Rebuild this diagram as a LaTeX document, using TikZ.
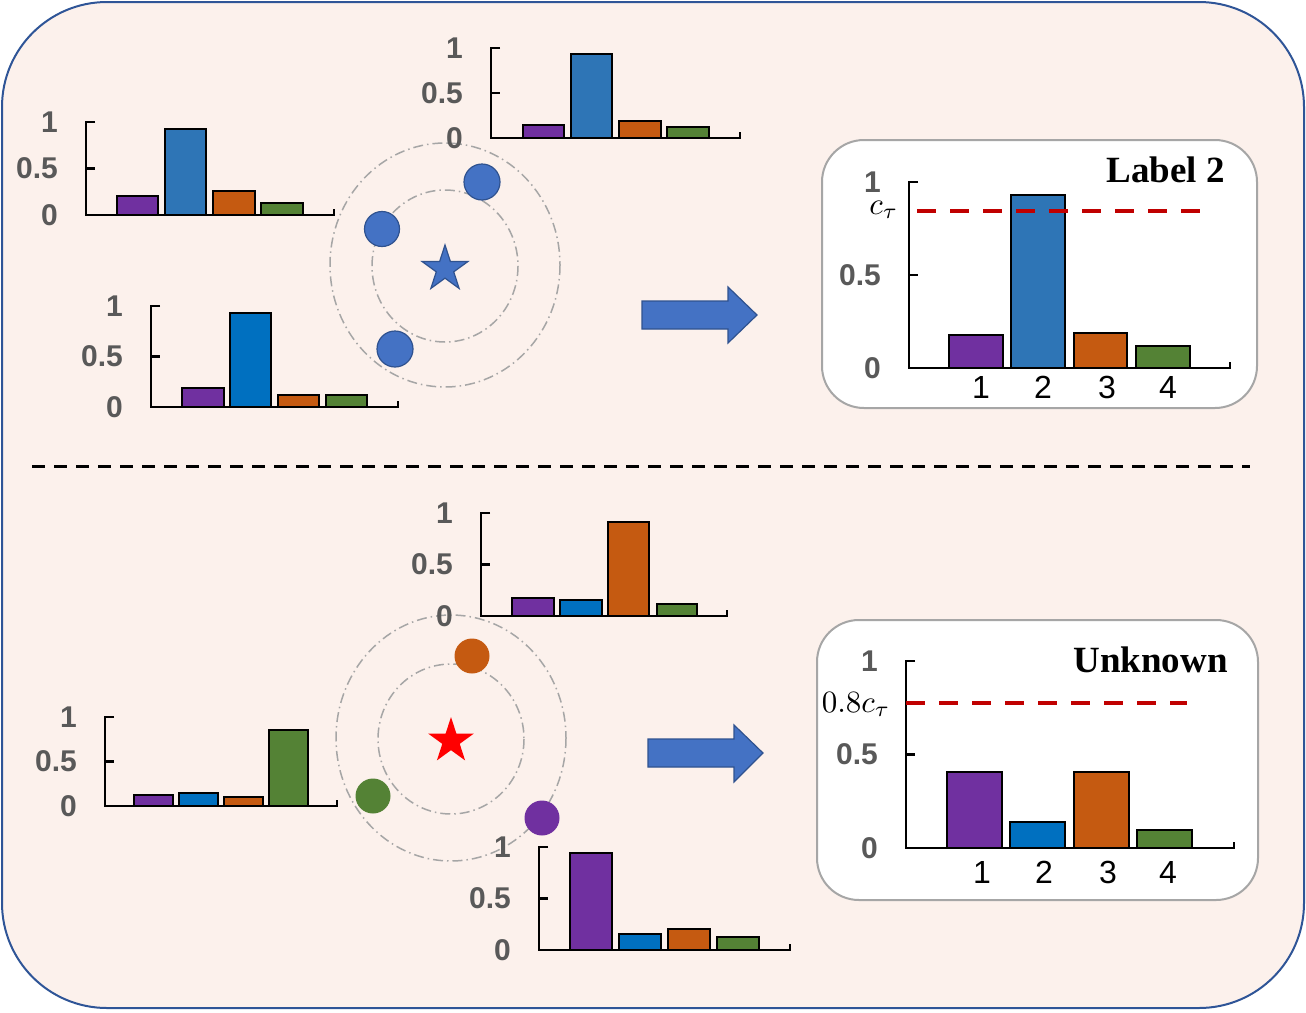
\documentclass[tikz,border=0pt]{standalone}
\usepackage{fontspec}
\newfontfamily\lsans{Liberation Sans}
\newfontfamily\lserif{Liberation Serif}
\usetikzlibrary{shapes.geometric}
\definecolor{bgpink}{HTML}{FCF1EC}
\definecolor{frameblue}{HTML}{2F5597}
\definecolor{cpurple}{HTML}{7030A0}
\definecolor{cblueT}{HTML}{2E75B6}
\definecolor{cblueB}{HTML}{0070C0}
\definecolor{corange}{HTML}{C55A11}
\definecolor{cgreen}{HTML}{548235}
\definecolor{labgray}{HTML}{595959}
\definecolor{ringgray}{HTML}{A6A6A6}
\definecolor{dotblue}{HTML}{4472C4}
\definecolor{dotedge}{HTML}{2F528F}
\definecolor{thrred}{HTML}{C00000}
\definecolor{boxgray}{HTML}{A6A6A6}
\tikzset{
  axisst/.style={draw=black, line width=2.2pt},
  barst/.style={draw=black, line width=2pt},
  axlab/.style={font=\lsans\bfseries\fontsize{30}{30}\selectfont, text=labgray, anchor=east, inner sep=0pt},
  catlab/.style={font=\lsans\fontsize{32}{32}\selectfont, text=black, inner sep=0pt},
  titlelab/.style={font=\lserif\bfseries\fontsize{37}{37}\selectfont, text=black, anchor=east, inner sep=0pt},
  mathlab/.style={scale=3.1, anchor=base east, inner sep=0pt},
  ring/.style={draw=ringgray, line width=1.5pt, dash pattern=on 10pt off 4pt on 1.5pt off 4pt},
  bluedot/.style={circle, fill=dotblue, draw=dotedge, line width=1.2pt, inner sep=0pt},
  plaindot/.style={circle, inner sep=0pt},
  blockarrow/.style={fill=dotblue, draw=dotedge, line width=1.2pt},
  resbox/.style={draw=boxgray, line width=2pt, fill=white, rounded corners=42pt},
  thr/.style={draw=thrred, line width=4pt, dash pattern=on 19pt off 14pt},
}
\newcommand{\mychart}[5]{%
  \draw[axisst] ({#2+9},#3) -- (#2,#3) -- (#2,#4) -- (#5,#4) -- (#5,{#4-6});
  \draw[axisst] (#2,{(#3+#4)/2}) -- ++(9,0);
  \node[axlab] (#1l1) at ({#2-28},#3) {1};
  \node[axlab] (#1l5) at ({#2-28},{(#3+#4)/2}) {0.5};
  \node[axlab] (#1l0) at ({#2-28},#4) {0};
}
\newcommand{\mybar}[5]{\draw[barst, fill=#1] (#2,#4) rectangle (#3,#5);}
\begin{document}
\begin{tikzpicture}[x=1pt, y=-1pt]
\useasboundingbox (0,0) rectangle (1306,1012);
% outer frame
\draw[draw=frameblue, line width=2pt, fill=bgpink, rounded corners=105pt] (2,2) rectangle (1304,1008);
% separator
\draw[black, line width=3pt, dash pattern=on 13pt off 9pt] (32,466) -- (1250,466);

% ===== top half =====
\draw[ring] (445,265) ellipse [x radius=115, y radius=122];
\draw[ring] (445,266) ellipse [x radius=73, y radius=76];
\node[bluedot, minimum size=36pt] (td1) at (482,182) {};
\node[bluedot, minimum size=35pt] (td2) at (382,229) {};
\node[bluedot, minimum size=36pt] (td3) at (395,349) {};
\node[star, star points=5, star point ratio=2.618, minimum size=48pt, inner sep=0pt, fill=dotblue, draw=dotedge, line width=1.2pt] (tstar) at (445,269) {};
\draw[blockarrow] (642,301) -- (728,301) -- (728,287) -- (757,315) -- (728,343) -- (728,329) -- (642,329) -- cycle;

% chart A
\mybar{cpurple}{117}{158}{215}{196}
\mybar{cblueT}{165}{206}{215}{129}
\mybar{corange}{213}{255}{215}{191}
\mybar{cgreen}{261}{303}{215}{203}
\mychart{A}{86}{122}{215}{334}
% chart B
\mybar{cpurple}{523}{564}{138}{125}
\mybar{cblueT}{571}{612}{138}{54}
\mybar{corange}{619}{661}{138}{121}
\mybar{cgreen}{667}{709}{138}{127}
\mychart{B}{491}{48}{138}{740}
% chart C
\mybar{cpurple}{182}{224}{407}{388}
\mybar{cblueB}{230}{271}{407}{313}
\mybar{corange}{278}{319}{407}{395}
\mybar{cgreen}{326}{367}{407}{395}
\mychart{C}{151}{306}{407}{398}

% result box top
\draw[resbox] (822,140) rectangle (1257,408);
\mybar{cpurple}{949}{1003}{368}{335}
\mybar{cblueT}{1011}{1065}{368}{195}
\mybar{corange}{1074}{1127}{368}{333}
\mybar{cgreen}{1136}{1190}{368}{346}
\mychart{R}{909}{182}{368}{1230}
\draw[thr] (917,211) -- (1213,211);
\node[mathlab] (ctau) at (899,214) {$c_\tau$};
\node[titlelab] (lab2) at (1225,170) {Label 2};
\node[catlab] (rc1) at (981,387) {1};
\node[catlab] (rc2) at (1043,387) {2};
\node[catlab] (rc3) at (1107,387) {3};
\node[catlab] (rc4) at (1168,387) {4};

% ===== bottom half =====
\draw[ring] (451,738) ellipse [x radius=115, y radius=123];
\draw[ring] (451,739) ellipse [x radius=73, y radius=75];
\node[plaindot, fill=corange, minimum size=35pt] (bd1) at (472,656) {};
\node[plaindot, fill=cgreen, minimum size=35pt] (bd2) at (373,796) {};
\node[plaindot, fill=cpurple, minimum size=35pt] (bd3) at (542,818) {};
\node[star, star points=5, star point ratio=2.618, minimum size=48pt, inner sep=0pt, fill=red] (bstar) at (451,741) {};
\draw[blockarrow] (648,739) -- (734,739) -- (734,725) -- (763,753) -- (734,782) -- (734,767) -- (648,767) -- cycle;

% chart D
\mybar{cpurple}{512}{554}{616}{598}
\mybar{cblueB}{560}{602}{616}{600}
\mybar{corange}{608}{649}{616}{522}
\mybar{cgreen}{657}{697}{616}{604}
\mychart{D}{481}{513}{616}{727}
% chart E
\mybar{cpurple}{570}{612}{950}{853}
\mybar{cblueB}{619}{661}{950}{934}
\mybar{corange}{668}{710}{950}{929}
\mybar{cgreen}{717}{759}{950}{937}
\mychart{E}{539}{847}{950}{790}
% chart F
\mybar{cpurple}{134}{173}{806}{795}
\mybar{cblueB}{179}{218}{806}{793}
\mybar{corange}{224}{263}{806}{797}
\mybar{cgreen}{269}{308}{806}{730}
\mychart{F}{105}{717}{806}{337}

% result box bottom
\draw[resbox] (817,620) rectangle (1258,900);
\mybar{cpurple}{947}{1002}{848}{772}
\mybar{cblueB}{1010}{1065}{848}{822}
\mybar{corange}{1074}{1129}{848}{772}
\mybar{cgreen}{1137}{1192}{848}{830}
\mychart{S}{906}{661}{848}{1234}
\draw[thr] (906,703) -- (1187,703);
\node[mathlab] (c08) at (891,712) {$0.8c_\tau$};
\node[titlelab] (labu) at (1228,660) {Unknown};
\node[catlab] (sc1) at (982,872) {1};
\node[catlab] (sc2) at (1044,872) {2};
\node[catlab] (sc3) at (1108,872) {3};
\node[catlab] (sc4) at (1168,872) {4};
\end{tikzpicture}
\end{document}
